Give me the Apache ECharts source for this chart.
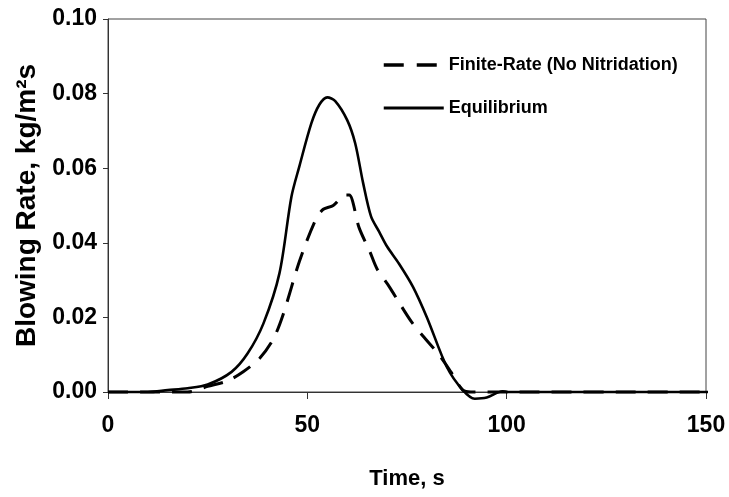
<!DOCTYPE html>
<html>
<head>
<meta charset="utf-8">
<script src="https://cdn.jsdelivr.net/npm/echarts@6/dist/echarts.min.js"></script>
<style>html,body{margin:0;padding:0;background:#fff;}#c{width:729px;height:497px;}</style>
</head>
<body>
<div id="c"></div>
<script>
var xTicks = [0, 50, 100, 150];
var yTicks = [0.00, 0.02, 0.04, 0.06, 0.08, 0.10];
var seriesNames = ['Finite-Rate (No Nitridation)', 'Equilibrium'];

var frTime = [0, 10, 20, 25, 30, 34, 38, 41.5, 44, 48, 52, 54, 56.5, 59.5, 60.5, 63, 65.7, 67.5, 70.7, 73, 76, 79, 83, 86, 89, 91, 100, 152];
var frRate = [0, 0, 0, 0.0015, 0.003, 0.0055, 0.009, 0.0143, 0.021, 0.035, 0.046, 0.049, 0.050, 0.0528, 0.0528, 0.044, 0.0376, 0.033, 0.028, 0.024, 0.019, 0.015, 0.010, 0.0054, 0.0005, 0, 0, 0];

var eqTime = [0, 10, 15, 20, 25, 31, 35, 39, 43, 46, 48, 51, 53, 55, 57, 60, 62, 64, 66, 68, 70, 73, 76.5, 80, 85, 89, 92, 95, 99, 100, 152];
var eqRate = [0, 0, 0.0005, 0.001, 0.002, 0.0054, 0.0103, 0.0184, 0.0318, 0.0523, 0.0605, 0.072, 0.077, 0.079, 0.078, 0.0729, 0.0667, 0.056, 0.047, 0.043, 0.039, 0.0344, 0.0282, 0.020, 0.0067, 0.0005, -0.0018, -0.0015, 0.0002, 0, 0];

function pairs(xs, ys) { return xs.map(function (x, i) { return [x, ys[i]]; }); }

var font = 'Liberation Sans';
var chart = echarts.init(document.getElementById('c'), null, { renderer: 'canvas' });
chart.setOption({
  backgroundColor: '#fff',
  animation: false,
  grid: { left: 108, right: 23, top: 19, bottom: 105, show: true, borderColor: '#444', borderWidth: 1, containLabel: false },
  legend: {
    orient: 'vertical', left: 377, top: 51, itemWidth: 60, itemHeight: 14, itemGap: 25,
    itemStyle: { opacity: 0 },
    textStyle: { fontFamily: '"Liberation Sans Narrow", "Liberation Sans"', fontSize: 18, fontWeight: 'bold', color: '#000' },
    data: [
      { name: seriesNames[0], lineStyle: { type: [20, 13], width: 3.5 } },
      { name: seriesNames[1], lineStyle: { width: 3 } }
    ]
  },
  xAxis: {
    type: 'value', min: xTicks[0], max: xTicks[xTicks.length - 1], interval: 50,
    name: 'Time, s', nameLocation: 'middle', nameGap: 76,
    nameTextStyle: { fontFamily: font, fontSize: 22, fontWeight: 'bold', color: '#000' },
    axisLine: { show: true, onZero: false, lineStyle: { color: '#333', width: 1 } },
    axisTick: { show: true, inside: false, length: 7, lineStyle: { color: '#333' } },
    axisLabel: { fontFamily: font, fontSize: 23, fontWeight: 'bold', color: '#000', margin: 22 },
    splitLine: { show: false }
  },
  yAxis: {
    type: 'value', min: yTicks[0], max: yTicks[yTicks.length - 1], interval: 0.02,
    name: 'Blowing Rate, kg/m\u00b2s', nameLocation: 'middle', nameGap: 64,
    nameTextStyle: { fontFamily: font, fontSize: 28, fontWeight: 'bold', color: '#000' },
    axisLine: { show: true, lineStyle: { color: '#333', width: 1 } },
    axisTick: { show: true, inside: false, length: 5, lineStyle: { color: '#333' } },
    axisLabel: { fontFamily: font, fontSize: 23, fontWeight: 'bold', color: '#000', margin: 11,
      formatter: function (v) { return v.toFixed(2); } },
    splitLine: { show: false }
  },
  series: [
    {
      name: seriesNames[0], type: 'line', data: pairs(frTime, frRate),
      smooth: 0.3, showSymbol: false, symbol: 'none', clip: false,
      lineStyle: { color: '#000', width: 3, type: [20, 12] }, itemStyle: { color: '#000' }
    },
    {
      name: seriesNames[1], type: 'line', data: pairs(eqTime, eqRate),
      smooth: 0.3, showSymbol: false, symbol: 'none', clip: false,
      lineStyle: { color: '#000', width: 2.6 }, itemStyle: { color: '#000' }
    }
  ]
});
</script>
</body>
</html>
